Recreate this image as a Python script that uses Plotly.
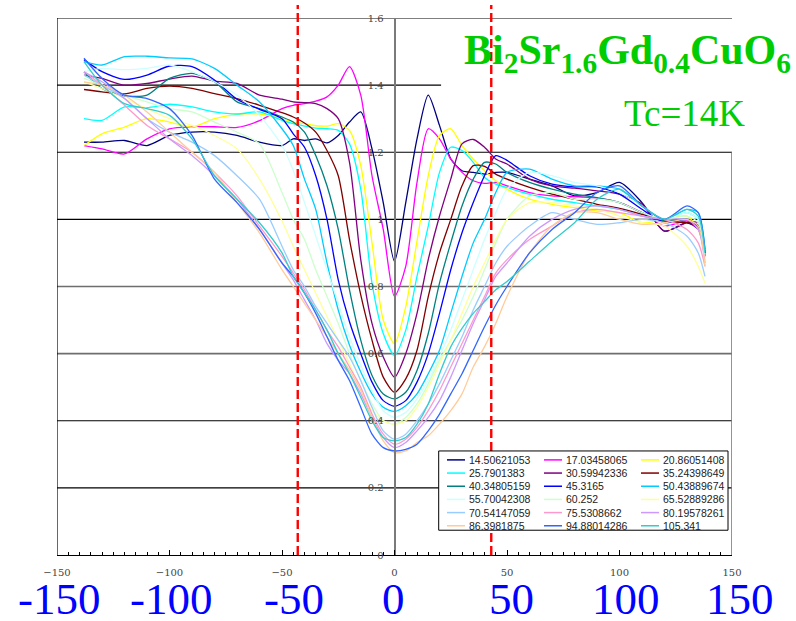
import plotly.graph_objects as go

# Bias voltage grid (mV)
bias_mv = [-138, -130, -120, -110, -100, -90, -80, -70, -60, -50, -45, -40, -35, -30, -25,
           -20, -15, -10, -5, 0, 5, 10, 15, 20, 25, 30, 35, 40, 45, 50,
           60, 70, 80, 90, 100, 110, 120, 130, 135, 138]

# Temperature of each spectrum (legend labels)
temperatures = ["14.50621053", "17.03458065", "20.86051408",
                "25.7901383", "30.59942336", "35.24398649",
                "40.34805159", "45.3165", "50.43889674",
                "55.70042308", "60.252", "65.52889286",
                "70.54147059", "75.5308662", "80.19578261",
                "86.3981875", "94.88014286", "105.341"]

line_colors = ["#000080", "#FF00FF", "#FFFF00",
               "#00FFFF", "#800080", "#800000",
               "#008080", "#0000FF", "#00CCFF",
               "#CCFFFF", "#CCFFCC", "#FFFF99",
               "#99CCFF", "#FF99CC", "#CC99FF",
               "#FFCC99", "#3366FF", "#33CCCC"]

# Normalized conductance dI/dV for each temperature
g_14_5 = [1.23, 1.23, 1.235, 1.22, 1.25, 1.26, 1.26, 1.25, 1.23, 1.22, 1.24, 1.235, 1.24, 1.228, 1.25,
          1.29, 1.32, 1.21, 1.05, 0.875, 1.05, 1.24, 1.37, 1.28, 1.18, 1.145, 1.14, 1.135, 1.14, 1.14,
          1.12, 1.10, 1.07, 1.08, 1.11, 1.05, 0.965, 0.99, 0.97, 0.90]
g_17_0 = [1.22, 1.21, 1.195, 1.24, 1.27, 1.276, 1.276, 1.274, 1.294, 1.33, 1.34, 1.345, 1.352, 1.365, 1.40,
          1.455, 1.37, 1.13, 0.97, 0.77, 0.86, 1.11, 1.27, 1.24, 1.18, 1.14, 1.115, 1.107, 1.11, 1.10,
          1.08, 1.07, 1.068, 1.063, 1.05, 1.02, 0.98, 0.995, 0.97, 0.90]
g_20_9 = [1.22, 1.255, 1.275, 1.30, 1.29, 1.275, 1.30, 1.313, 1.314, 1.30, 1.29, 1.285, 1.279, 1.278, 1.285,
          1.265, 1.16, 0.93, 0.70, 0.63, 0.74, 0.935, 1.13, 1.25, 1.27, 1.22, 1.18, 1.145, 1.115, 1.09,
          1.06, 1.045, 1.035, 1.025, 1.02, 0.99, 1.0, 1.01, 0.97, 0.90]
g_25_8 = [1.30, 1.295, 1.335, 1.333, 1.343, 1.335, 1.32, 1.314, 1.32, 1.295, 1.285, 1.278, 1.272, 1.27, 1.265,
          1.225, 1.09, 0.81, 0.66, 0.595, 0.67, 0.83, 0.98, 1.14, 1.215, 1.205, 1.17, 1.125, 1.105, 1.095,
          1.075, 1.06, 1.05, 1.04, 1.03, 1.01, 1.0, 1.02, 1.0, 0.90]
g_30_6 = [1.43, 1.42, 1.40, 1.405, 1.418, 1.427, 1.412, 1.405, 1.37, 1.358, 1.35, 1.348, 1.345, 1.33, 1.30,
          1.17, 0.88, 0.69, 0.59, 0.53, 0.60, 0.72, 0.88, 1.01, 1.12, 1.225, 1.238, 1.215, 1.18, 1.165,
          1.12, 1.10, 1.093, 1.085, 1.075, 1.045, 0.965, 0.99, 0.99, 0.90]
g_35_2 = [1.387, 1.38, 1.374, 1.39, 1.397, 1.39, 1.375, 1.36, 1.34, 1.318, 1.305, 1.287, 1.26, 1.205, 1.13,
          0.94, 0.775, 0.64, 0.53, 0.485, 0.525, 0.61, 0.77, 0.90, 1.0, 1.10, 1.16, 1.158, 1.135, 1.12,
          1.095, 1.075, 1.06, 1.045, 1.033, 1.015, 0.995, 0.99, 0.98, 0.89]
g_40_3 = [1.44, 1.39, 1.368, 1.37, 1.42, 1.435, 1.41, 1.35, 1.33, 1.305, 1.29, 1.26, 1.19, 1.10, 0.97,
          0.79, 0.64, 0.535, 0.48, 0.465, 0.485, 0.55, 0.66, 0.81, 0.93, 1.04, 1.12, 1.17, 1.165, 1.14,
          1.11, 1.09, 1.075, 1.065, 1.05, 1.02, 0.995, 1.0, 0.98, 0.89]
g_45_3 = [1.476, 1.44, 1.417, 1.43, 1.457, 1.455, 1.415, 1.358, 1.328, 1.30, 1.255, 1.215, 1.13, 1.0, 0.82,
          0.695, 0.60, 0.515, 0.46, 0.443, 0.46, 0.515, 0.60, 0.72, 0.85, 0.96, 1.05, 1.13, 1.19, 1.176,
          1.13, 1.105, 1.097, 1.097, 1.075, 1.03, 0.99, 1.0, 0.98, 0.90]
g_50_4 = [1.47, 1.46, 1.485, 1.486, 1.481, 1.478, 1.45, 1.40, 1.35, 1.27, 1.22, 1.12, 1.03, 0.87, 0.73,
          0.625, 0.545, 0.48, 0.44, 0.428, 0.445, 0.48, 0.54, 0.61, 0.72, 0.83, 0.93, 1.0, 1.08, 1.14,
          1.15, 1.12, 1.10, 1.10, 1.09, 1.04, 1.0, 1.03, 1.02, 0.91]
g_55_7 = [1.44, 1.45, 1.446, 1.45, 1.46, 1.44, 1.41, 1.37, 1.31, 1.22, 1.146, 1.05, 0.95, 0.85, 0.75,
          0.65, 0.565, 0.49, 0.43, 0.41, 0.425, 0.465, 0.52, 0.59, 0.67, 0.76, 0.85, 0.94, 1.02, 1.09,
          1.14, 1.13, 1.11, 1.10, 1.08, 1.04, 1.0, 1.02, 1.0, 0.88]
g_60_3 = [1.42, 1.40, 1.37, 1.35, 1.33, 1.32, 1.29, 1.26, 1.225, 1.08, 1.0, 0.94, 0.85, 0.77, 0.69,
          0.60, 0.52, 0.45, 0.40, 0.39, 0.41, 0.45, 0.51, 0.58, 0.64, 0.70, 0.77, 0.85, 0.93, 1.0,
          1.07, 1.08, 1.06, 1.06, 1.05, 1.02, 1.0, 1.01, 0.99, 0.88]
g_65_5 = [1.41, 1.39, 1.36, 1.33, 1.30, 1.28, 1.25, 1.21, 1.12, 0.995, 0.92, 0.85, 0.78, 0.71, 0.64,
          0.57, 0.49, 0.43, 0.40, 0.39, 0.40, 0.44, 0.50, 0.57, 0.64, 0.72, 0.80, 0.87, 0.94, 1.0,
          1.05, 1.05, 1.04, 1.03, 1.01, 0.99, 0.98, 0.92, 0.86, 0.81]
g_70_5 = [1.43, 1.40, 1.36, 1.30, 1.26, 1.23, 1.19, 1.13, 1.06, 0.92, 0.85, 0.80, 0.74, 0.69, 0.64,
          0.59, 0.52, 0.44, 0.37, 0.345, 0.36, 0.40, 0.45, 0.51, 0.58, 0.65, 0.73, 0.80, 0.87, 0.92,
          0.98, 1.02, 1.0, 0.985, 0.99, 1.0, 0.99, 0.95, 0.90, 0.83]
g_75_5 = [1.44, 1.40, 1.34, 1.28, 1.24, 1.20, 1.14, 1.07, 0.98, 0.89, 0.84, 0.79, 0.73, 0.67, 0.62,
          0.56, 0.50, 0.42, 0.36, 0.33, 0.345, 0.38, 0.43, 0.49, 0.56, 0.63, 0.70, 0.77, 0.84, 0.88,
          0.94, 0.98, 1.02, 1.03, 1.02, 1.01, 1.0, 0.97, 0.93, 0.86]
g_80_2 = [1.44, 1.41, 1.36, 1.30, 1.24, 1.19, 1.13, 1.06, 0.97, 0.87, 0.82, 0.76, 0.70, 0.63, 0.58,
          0.54, 0.48, 0.41, 0.35, 0.32, 0.335, 0.37, 0.41, 0.46, 0.53, 0.61, 0.69, 0.76, 0.83, 0.87,
          0.95, 1.0, 1.03, 1.04, 1.03, 1.01, 1.0, 1.0, 0.97, 0.87]
g_86_4 = [1.41, 1.40, 1.37, 1.32, 1.26, 1.20, 1.14, 1.05, 0.96, 0.85, 0.80, 0.75, 0.70, 0.65, 0.60,
          0.55, 0.49, 0.41, 0.34, 0.305, 0.31, 0.335, 0.355, 0.39, 0.43, 0.48, 0.56, 0.62, 0.69, 0.77,
          0.90, 0.98, 1.02, 1.02, 1.0, 0.985, 0.99, 1.0, 0.98, 0.86]
g_94_9 = [1.48, 1.42, 1.37, 1.36, 1.33, 1.25, 1.12, 1.05, 0.97, 0.87, 0.83, 0.78, 0.72, 0.65, 0.58,
          0.52, 0.44, 0.36, 0.32, 0.31, 0.315, 0.33, 0.37, 0.42, 0.48, 0.54, 0.61, 0.68, 0.745, 0.80,
          0.90, 0.97, 1.02, 1.08, 1.10, 1.04, 1.0, 1.04, 1.02, 0.91]
g_105_3 = [1.47, 1.40, 1.345, 1.33, 1.31, 1.24, 1.13, 1.06, 0.99, 0.90, 0.83, 0.78, 0.73, 0.67, 0.60,
           0.54, 0.47, 0.40, 0.35, 0.34, 0.35, 0.39, 0.45, 0.54, 0.62, 0.675, 0.72, 0.755, 0.79, 0.815,
           0.875, 0.935, 0.99, 1.06, 1.09, 1.04, 1.0, 1.03, 1.01, 0.90]

spectra = [g_14_5, g_17_0, g_20_9, g_25_8, g_30_6, g_35_2, g_40_3, g_45_3, g_50_4,
           g_55_7, g_60_3, g_65_5, g_70_5, g_75_5, g_80_2, g_86_4, g_94_9, g_105_3]

y_ticks = [0, 0.2, 0.4, 0.6, 0.8, 1.0, 1.2, 1.4, 1.6]
y_ticktext = ["0", "0.2", "0.4", "0.6", "0.8", "1", "1.2", "1.4", "1.6"]
x_big_labels = [-150, -100, -50, 0, 50, 100, 150]
gap_edges = [-43, 43]

fig = go.Figure()
for name, col, g in zip(temperatures, line_colors, spectra):
    fig.add_trace(go.Scatter(
        x=bias_mv, y=g, mode="lines", name=name,
        line=dict(color=col, width=1.3, shape="spline", smoothing=0.7),
        hoverinfo="skip", showlegend=False))

# plot frame geometry in pixels
W, H = 796, 621
L, R, T, B = 57, 732, 13, 555
def px(xp):
    return (xp - L) / (R - L)
def py(yp):
    return (B - yp) / (B - T)

shapes = []
# horizontal grid lines (some partial, some grey)
grid_style = {1.6: ("#000000", 1.2, 150), 1.4: ("#000000", 1.2, 20.7), 1.2: ("#000000", 1.2, 150),
              1.0: ("#000000", 1.2, 150), 0.8: ("#6E6E6E", 1.6, 150), 0.6: ("#6E6E6E", 1.6, 150),
              0.4: ("#000000", 1.2, 150), 0.2: ("#000000", 1.2, 150)}
for yv, (c, w, xend) in grid_style.items():
    shapes.append(dict(type="line", xref="x", yref="y", x0=-150, x1=xend, y0=yv, y1=yv,
                       line=dict(color=c, width=w), layer="below"))
# left frame edge and partial right edge
shapes.append(dict(type="line", xref="x", yref="y", x0=-150, x1=-150, y0=0, y1=1.6,
                   line=dict(color="#000000", width=1.2)))
shapes.append(dict(type="line", xref="x", yref="y", x0=150, x1=150, y0=0, y1=1.2,
                   line=dict(color="#7A7A7A", width=1.6)))
# superconducting gap markers
for xg in gap_edges:
    shapes.append(dict(type="line", xref="x", yref="paper", x0=xg, x1=xg, y0=0, y1=py(0),
                       line=dict(color="#FF0000", width=2.4, dash="9px,4px")))

annotations = []
# legend box drawn as a table of three columns
lx0, lx1, ly0, ly1 = 438.7, 728, 450, 530
shapes.append(dict(type="rect", xref="paper", yref="paper", x0=px(lx0), x1=px(lx1),
                   y0=py(ly1), y1=py(ly0), line=dict(color="#000000", width=1),
                   fillcolor="#FFFFFF", layer="above"))
col_x = [447, 544, 641]
for i, (name, col) in enumerate(zip(temperatures, line_colors)):
    r, c = divmod(i, 3)
    yy = 459 + 13.3 * r
    shapes.append(dict(type="line", xref="paper", yref="paper", x0=px(col_x[c]), x1=px(col_x[c] + 18),
                       y0=py(yy), y1=py(yy), line=dict(color=col, width=1.5), layer="above"))
    annotations.append(dict(xref="paper", yref="paper", x=px(col_x[c] + 20), y=py(yy), text=name,
                            showarrow=False, xanchor="left", yanchor="middle",
                            font=dict(family="Liberation Sans, Arial", size=10.5, color="#222222")))

annotations.append(dict(xref="paper", yref="paper", x=px(793), y=py(48),
                        text="<b>Bi<sub>2</sub>Sr<sub>1.6</sub>Gd<sub>0.4</sub>CuO<sub>6</sub></b>",
                        showarrow=False, xanchor="right", yanchor="middle",
                        font=dict(family="Liberation Serif, Times New Roman", size=42, color="#00CC00")))
annotations.append(dict(xref="paper", yref="paper", x=px(684), y=py(109), text="Tc=14K",
                        showarrow=False, xanchor="center", yanchor="middle",
                        font=dict(family="Liberation Serif, Times New Roman", size=37, color="#00CC00")))
big_shift = [2.5, 1.5, 12, -1, 4.5, 6.5, 8]
for xv, sh in zip(x_big_labels, big_shift):
    annotations.append(dict(xref="x", yref="paper", x=xv, y=py(599), xshift=sh, text=str(xv),
                            showarrow=False, xanchor="center", yanchor="middle",
                            font=dict(family="Liberation Serif, Times New Roman", size=45, color="#0000FF")))

fig.update_layout(
    width=W, height=H,
    margin=dict(l=L, r=W - R, t=T, b=H - B, pad=0),
    paper_bgcolor="white", plot_bgcolor="white",
    showlegend=False,
    shapes=shapes, annotations=annotations,
    xaxis=dict(range=[-150, 150], showgrid=False, zeroline=False,
               showline=True, linecolor="#000000", linewidth=1.2,
               ticks="inside", ticklen=5, tickcolor="#000000", tick0=-150, dtick=50,
               minor=dict(ticks="inside", ticklen=3, dtick=5, tickcolor="#000000"),
               tickfont=dict(family="DejaVu Serif", size=10, color="#444444"),
               ticklabelstandoff=8),
    yaxis=dict(range=[0, 1.6], showgrid=False, zeroline=False,
               anchor="free", position=0.5,
               showline=True, linecolor="#7A7A7A", linewidth=1.6,
               tickvals=y_ticks, ticktext=y_ticktext, ticks="",
               tickfont=dict(family="DejaVu Serif", size=10, color="#444444"),
               ticklabelstandoff=8),
)

fig.write_html("out.html", config={"displayModeBar": False})
